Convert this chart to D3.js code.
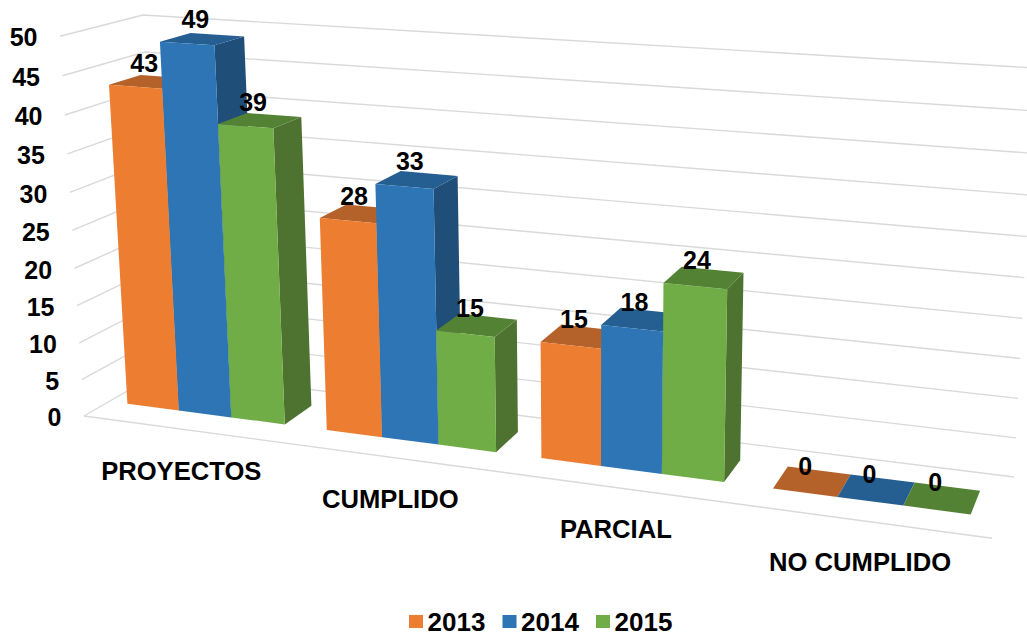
<!DOCTYPE html>
<html><head><meta charset="utf-8">
<script src="https://cdn.jsdelivr.net/npm/d3@7"></script>
<style>html,body{margin:0;padding:0;background:#fff}svg{display:block}text{font-family:"Liberation Sans",Arial,sans-serif;font-weight:bold;fill:#000}</style>
</head><body><div id="c"></div>
<script>
const categories = ["PROYECTOS","CUMPLIDO","PARCIAL","NO CUMPLIDO"];
const years = ["2013","2014","2015"];
const values2013 = [43,28,15,0];
const values2014 = [49,33,18,0];
const values2015 = [39,15,24,0];
const ticks = [0,5,10,15,20,25,30,35,40,45,50];
const faceColors = {"2013":"#ED7D31","2014":"#2E75B6","2015":"#70AD47"};
const topColors  = {"2013":"#B5622A","2014":"#255E91","2015":"#548235"};
const sideColors = {"2013":"#9C4F1F","2014":"#1F4E79","2015":"#4E722F"};
const series = {"2013":values2013,"2014":values2014,"2015":values2015};

const W=1027,H=639;
const svg=d3.select("#c").append("svg").attr("width",W).attr("height",H).attr("viewBox",[0,0,W,H]);

// projective camera anchored on the plot-box corners
const A=[162,371],B=[1014,477],C=[84,416],E=[143,15];
const d=-0.135,e=-0.065,f=-0.042;
const ax=[0,1].map(i=>B[i]*(1+d)-A[i]), bx=[0,1].map(i=>C[i]*(1+e)-A[i]), cx=[0,1].map(i=>E[i]*(1+f)-A[i]);
function proj(u,v,w){const q=1+d*u+e*v+f*w;
  return [0,1].map(i=>(A[i]+ax[i]*u+bx[i]*v+cx[i]*w)/q);}

const h=d3.scaleLinear().domain([0,50]).range([0,1]);
const gap=0.205;
const xCat=d3.scaleBand().domain(categories).range([-0.002,0.998]).paddingInner(gap).paddingOuter(gap/2);
const xYear=d3.scaleBand().domain(years).range([0,xCat.bandwidth()]);
const vFront=0.69,vBack=0.30;
const poly=pts=>"M"+pts.map(p=>p.map(n=>n.toFixed(1)).join(",")).join("L")+"Z";

// gridlines
const grid=svg.append("g").attr("fill","none").attr("stroke","#d9d9d9").attr("stroke-width",1.4);
const ln=d3.line();
ticks.forEach(t=>{
  grid.append("path").attr("d",ln([proj(0,1,h(t)),proj(0,0,h(t)),proj(1,0,h(t))]));
});
grid.append("path").attr("d",ln([proj(0,1,0),proj(1,1,0)]));

// bars, painted left to right
const bars=svg.append("g");
const labels=[];
categories.forEach((cat,ci)=>{
  years.forEach(y=>{
    const val=series[y][ci];
    const u0=xCat(cat)+xYear(y),u1=u0+xYear.bandwidth(),w=h(val);
    const P=(u,v,t)=>proj(u,v,t);
    bars.append("path").attr("d",poly([P(u1,vFront,0),P(u1,vBack,0),P(u1,vBack,w),P(u1,vFront,w)])).attr("fill",sideColors[y]);
    bars.append("path").attr("d",poly([P(u0,vFront,w),P(u1,vFront,w),P(u1,vBack,w),P(u0,vBack,w)])).attr("fill",topColors[y]);
    bars.append("path").attr("d",poly([P(u0,vFront,0),P(u1,vFront,0),P(u1,vFront,w),P(u0,vFront,w)])).attr("fill",faceColors[y]);
    labels.push({val,w,p:P((u0+u1)/2,(vFront+vBack)/2,w)});
  });
});
// data labels
svg.append("g").selectAll("text").data(labels).join("text")
  .attr("x",l=>l.p[0]-7).attr("y",l=>l.p[1]-15.5-4*l.w).attr("dy","0.35em").attr("text-anchor","middle")
  .attr("font-size",25).text(l=>l.val);

// value axis labels
svg.append("g").selectAll("text").data(ticks).join("text")
  .attr("x",t=>proj(0,1,h(t))[0]-22.5).attr("y",t=>proj(0,1,h(t))[1]+1.5).attr("dy","0.35em")
  .attr("text-anchor","end").attr("font-size",25).text(t=>t);

// category labels
svg.append("g").selectAll("text").data(categories).join("text")
  .attr("x",c=>proj(xCat(c)+xCat.bandwidth()/2,1,0)[0]).attr("y",c=>proj(xCat(c)+xCat.bandwidth()/2,1,0)[1]+41.5).attr("dy","0.35em")
  .attr("text-anchor","middle").attr("font-size",25.6).text(c=>c);

// legend
const lx=d3.scalePoint().domain(years).range([409,596]);
const lg=svg.append("g").selectAll("g").data(years).join("g").attr("transform",y=>`translate(${lx(y)},0)`);
lg.append("rect").attr("y",615).attr("width",14).attr("height",13).attr("fill",y=>faceColors[y]);
lg.append("text").attr("x",18.5).attr("y",622).attr("dy","0.35em").attr("font-size",26).text(y=>y);
</script></body></html>
